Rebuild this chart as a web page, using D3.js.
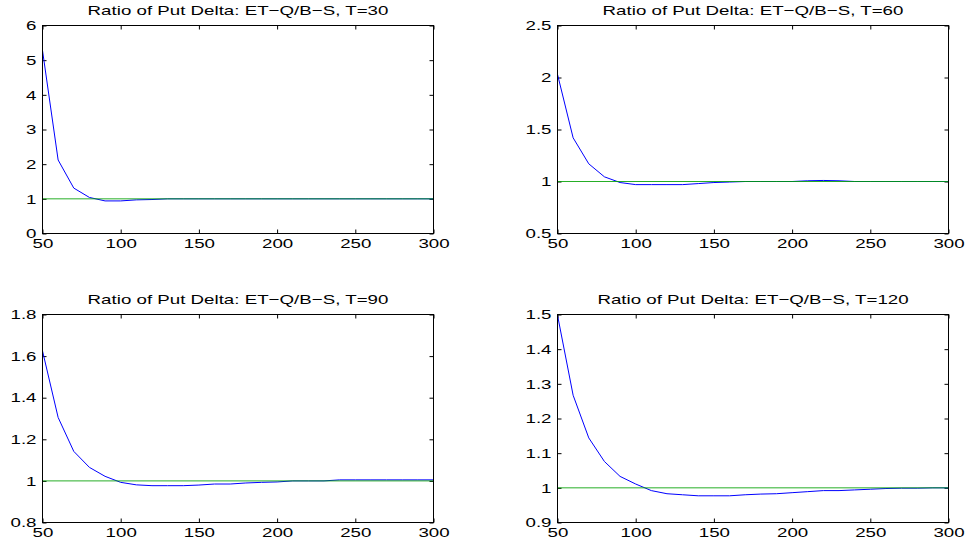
<!DOCTYPE html>
<html>
<head>
<meta charset="utf-8">
<script src="https://cdn.jsdelivr.net/npm/d3@7"></script>
<style>
  body { margin: 0; background: #fff; }
  svg { display: block; }
  text { font-family: "Liberation Sans", Arial, Helvetica, sans-serif; font-size: 13px; fill: #000; }
</style>
</head>
<body>
<div class="chart"></div>
<script>
// strike levels on the x axis
var strikes = [50, 60, 70, 80, 90, 100, 110, 120, 130, 140, 150, 160, 170, 180, 190, 200, 210, 220, 230, 240, 250, 260, 270, 280, 290, 300];

// ratio of put delta ET-Q / B-S
var ratioT30 = [5.28, 2.12, 1.31, 1.04, 0.94, 0.94, 0.97, 0.98, 1.0, 1.0, 1.0, 1.0, 1.0, 1.0, 1.0, 1.0, 1.0, 1.0, 1.0, 1.0, 1.0, 1.0, 1.0, 1.0, 1.0, 1.0];
var ratioT60 = [2.03, 1.42, 1.17, 1.045, 0.99, 0.97, 0.97, 0.97, 0.97, 0.98, 0.99, 0.995, 1.0, 1.0, 1.0, 1.0, 1.007, 1.01, 1.007, 1.0, 1.0, 1.0, 1.0, 1.0, 1.0, 1.0];
var ratioT90 = [1.625, 1.305, 1.142, 1.065, 1.022, 0.993, 0.981, 0.977, 0.977, 0.977, 0.98, 0.985, 0.985, 0.99, 0.993, 0.995, 1.0, 1.0, 1.0, 1.005, 1.005, 1.005, 1.005, 1.005, 1.005, 1.005];
var ratioT120 = [1.498, 1.267, 1.144, 1.076, 1.033, 1.011, 0.992, 0.983, 0.98, 0.977, 0.977, 0.977, 0.98, 0.982, 0.983, 0.986, 0.989, 0.992, 0.992, 0.994, 0.996, 0.998, 0.999, 0.999, 1.0, 1.0];

var maturities = [30, 60, 90, 120];
var xTicks = [50, 100, 150, 200, 250, 300];
var yTicksT30 = [0, 1, 2, 3, 4, 5, 6];
var yTicksT60 = [0.5, 1, 1.5, 2, 2.5];
var yTicksT90 = [0.8, 1, 1.2, 1.4, 1.6, 1.8];
var yTicksT120 = [0.9, 1, 1.1, 1.2, 1.3, 1.4, 1.5];
var referenceLevel = 1;

var series = [ratioT30, ratioT60, ratioT90, ratioT120];
var yTickSets = [yTicksT30, yTicksT60, yTicksT90, yTicksT120];

var W = 965, H = 548;
var panelW = 391, panelH = 208;
var panelLeft = [42, 557], panelTop = [25, 314];
// the original picture's lettering is wider than it is tall
var stretch = 1.44;

var svg = d3.select(".chart").append("svg")
    .attr("width", W)
    .attr("height", H);

var fmt = function(d) { return String(+d.toFixed(2)); };

maturities.forEach(function(T, i) {
    var col = i % 2, row = Math.floor(i / 2);
    var yt = yTickSets[i];
    var ys = series[i];

    var x = d3.scaleLinear().domain([strikes[0], strikes[strikes.length - 1]]).range([0, panelW]);
    var y = d3.scaleLinear().domain([yt[0], yt[yt.length - 1]]).range([panelH, 0]);

    var g = svg.append("g")
        .attr("transform", "translate(" + (panelLeft[col] + 0.5) + "," + (panelTop[row] + 0.5) + ")");

    // inward ticks on all four sides, labels only on left / bottom
    var gx = g.append("g").attr("transform", "translate(0," + panelH + ")")
        .call(d3.axisBottom(x).tickValues(xTicks).tickSizeInner(-4).tickSizeOuter(0).tickPadding(5.5).tickFormat(fmt));
    g.append("g")
        .call(d3.axisTop(x).tickValues(xTicks).tickSizeInner(-4).tickSizeOuter(0).tickFormat(""));
    var gy = g.append("g")
        .call(d3.axisLeft(y).tickValues(yt).tickSizeInner(-4).tickSizeOuter(0).tickPadding(6).tickFormat(fmt));
    g.append("g").attr("transform", "translate(" + panelW + ",0)")
        .call(d3.axisRight(y).tickValues(yt).tickSizeInner(-4).tickSizeOuter(0).tickFormat(""));

    g.selectAll(".domain").remove();
    g.selectAll(".tick line").attr("stroke", "#000");
    g.selectAll(".tick text").attr("font-size", null).attr("font-family", null);

    gx.selectAll(".tick text").attr("transform", "scale(" + stretch + ",1)");
    gy.selectAll(".tick text")
        .attr("x", -6 / stretch)
        .attr("transform", "scale(" + stretch + ",1)");

    var line = d3.line()
        .x(function(d, j) { return x(strikes[j]); })
        .y(function(d) { return y(d); });

    g.append("path")
        .datum(ys)
        .attr("d", line)
        .attr("fill", "none")
        .attr("stroke", "#0000ff")
        .attr("stroke-width", 1);

    // reference level drawn after the ratio curve, as in the original
    g.append("line")
        .attr("x1", x(strikes[0]))
        .attr("x2", x(strikes[strikes.length - 1]))
        .attr("y1", y(referenceLevel))
        .attr("y2", y(referenceLevel))
        .attr("stroke", "#00a000")
        .attr("stroke-opacity", 0.85)
        .attr("stroke-width", 1);

    g.append("rect")
        .attr("width", panelW)
        .attr("height", panelH)
        .attr("fill", "none")
        .attr("stroke", "#000")
        .attr("stroke-width", 1);

    g.append("text")
        .attr("transform", "translate(" + (panelW / 2) + ",-11) scale(" + stretch + ",1)")
        .attr("text-anchor", "middle")
        .text("Ratio of Put Delta: ET\u2212Q/B\u2212S, T=" + T);
});
</script>
</body>
</html>
